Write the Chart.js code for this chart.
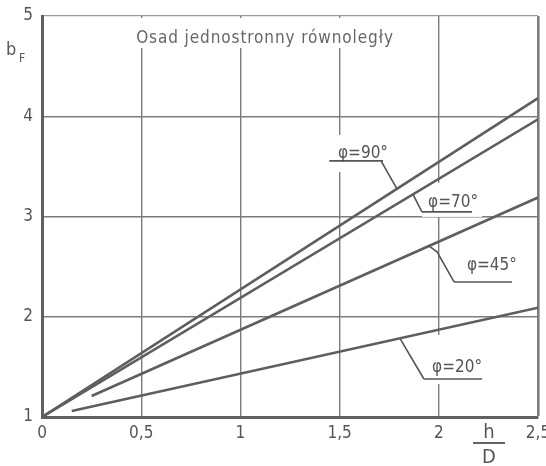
<!DOCTYPE html>
<html>
<head>
<meta charset="utf-8">
<script src="https://cdn.jsdelivr.net/npm/chart.js@4.4.1/dist/chart.umd.min.js"></script>
<style>
  html, body { margin: 0; background: #fff; }
</style>
</head>
<body>
<canvas id="chart" width="546" height="466"></canvas>
<script>
// values
const xTicks = [0, 0.5, 1, 1.5, 2, 2.5];
const yTicks = [1, 2, 3, 4, 5];
const title = "Osad jednostronny równoległy";

const x90 = [0, 2.5];
const b90 = [1.0, 4.18];
const x70 = [0, 2.5];
const b70 = [1.0, 3.97];
const x45 = [0.25, 2.5];
const b45 = [1.21, 3.19];
const x20 = [0.15, 2.5];
const b20 = [1.06, 2.09];

const seriesNames = ["φ=90°", "φ=70°", "φ=45°", "φ=20°"];

const FONT = '"DejaVu Sans Condensed", "DejaVu Sans", sans-serif';
const INK = "#555";
const LINE = "#5e5e5e";
const GRID = "#7c7c7c";

function pts(xs, ys) {
  return xs.map((x, i) => ({ x: x, y: ys[i] }));
}

const series = [pts(x90, b90), pts(x70, b70), pts(x45, b45), pts(x20, b20)];

// label placement (data units) for the leader-line annotations
const notes = [
  { s: 0, tx: 1.492, ty: 3.585, u0: 1.448, u1: 1.719, uy: 3.555, end: "right", hitX: 1.789, padT: 7, padB: 11 },
  { s: 1, tx: 1.946, ty: 3.096, u0: 1.915, u1: 2.167, uy: 3.046, end: "left", hitX: 1.870, padT: 8, padB: 5 },
  { s: 2, tx: 2.142, ty: 2.467, u0: 2.077, u1: 2.369, uy: 2.347, end: "left", hitX: 1.950, kink: [1.991, 2.647], padT: 4, padB: 3 },
  { s: 3, tx: 1.966, ty: 1.449, u0: 1.925, u1: 2.218, uy: 1.379, end: "left", hitX: 1.804, padT: 21, padB: 5 }
];

function lineAt(data, x) {
  const a = data[0], b = data[data.length - 1];
  return a.y + (b.y - a.y) * (x - a.x) / (b.x - a.x);
}

function fmt(v) {
  return String(v).replace(".", ",");
}

const decor = {
  id: "decor",
  beforeDatasetsDraw(chart) {
    const ctx = chart.ctx;
    const sx = chart.scales.x, sy = chart.scales.y;
    ctx.save();
    ctx.fillStyle = "#fff";
    // clear grid under the title
    ctx.fillRect(120, sy.top + 2, 290, 30);
    ctx.font = "17px " + FONT;
    notes.forEach(n => {
      const x = sx.getPixelForValue(n.tx);
      const y = sy.getPixelForValue(n.ty);
      const w = ctx.measureText(seriesNames[n.s]).width;
      const uy = sy.getPixelForValue(n.uy);
      ctx.fillRect(x - 6, y - 16 - n.padT, w + 10, uy - y + 16 + n.padT + n.padB);
    });
    ctx.restore();
  },
  afterDatasetsDraw(chart) {
    const ctx = chart.ctx;
    const sx = chart.scales.x, sy = chart.scales.y;
    ctx.save();
    ctx.fillStyle = INK;
    ctx.strokeStyle = INK;
    ctx.textBaseline = "alphabetic";

    // title, wide technical lettering
    ctx.font = "17px " + FONT;
    ctx.fillStyle = "#666";
    ctx.letterSpacing = "0.9px";
    ctx.textAlign = "center";
    ctx.fillText(title, 265, sy.top + 27);
    ctx.letterSpacing = "0px";
    ctx.fillStyle = INK;

    // series labels with underline and leader
    ctx.lineWidth = 1.6;
    notes.forEach(n => {
      ctx.font = "17px " + FONT;
      ctx.textAlign = "left";
      ctx.fillText(seriesNames[n.s], sx.getPixelForValue(n.tx), sy.getPixelForValue(n.ty));
      const uy = sy.getPixelForValue(n.uy);
      const ux0 = sx.getPixelForValue(n.u0), ux1 = sx.getPixelForValue(n.u1);
      ctx.beginPath();
      ctx.moveTo(ux0, uy);
      ctx.lineTo(ux1, uy);
      const sxp = n.end === "right" ? ux1 - 2 : ux0;
      ctx.moveTo(sxp, uy);
      if (n.kink) ctx.lineTo(sx.getPixelForValue(n.kink[0]), sy.getPixelForValue(n.kink[1]));
      ctx.lineTo(sx.getPixelForValue(n.hitX), sy.getPixelForValue(lineAt(series[n.s], n.hitX)));
      ctx.stroke();
    });

    // y axis title b_F
    ctx.textAlign = "left";
    ctx.font = "18px " + FONT;
    ctx.fillText("b", 6, 55);
    ctx.font = "12px " + FONT;
    ctx.fillText("F", 19, 62);

    // x axis title h / D
    ctx.textAlign = "center";
    ctx.font = "20px " + FONT;
    ctx.fillText("h", 489, 438);
    ctx.fillText("D", 489, 463);
    ctx.lineWidth = 1.8;
    ctx.beginPath();
    ctx.moveTo(473, 443);
    ctx.lineTo(505, 443);
    ctx.stroke();
    ctx.restore();
  }
};

new Chart(document.getElementById("chart"), {
  type: "scatter",
  plugins: [decor],
  data: {
    datasets: series.map((d, i) => ({
      label: seriesNames[i],
      data: d,
      showLine: true,
      borderColor: LINE,
      borderWidth: 2.6,
      pointRadius: 0,
      fill: false
    }))
  },
  options: {
    responsive: false,
    animation: false,
    layout: { padding: { top: 16, right: 8, left: 0, bottom: 0 } },
    plugins: {
      legend: { display: false },
      tooltip: { enabled: false }
    },
    scales: {
      x: {
        type: "linear",
        min: 0,
        max: 2.5,
        afterBuildTicks: s => { s.ticks = xTicks.map(v => ({ value: v })); },
        afterFit: s => { s.height = 49; s.paddingLeft = 0; s.paddingRight = 0; },
        ticks: {
          callback: v => fmt(v),
          font: { family: FONT, size: 17 },
          color: INK,
          padding: 6,
          maxRotation: 0
        },
        grid: {
          color: GRID,
          lineWidth: c => (c.tick && c.tick.value === 2.5 ? 2.6 : 1.4),
          drawTicks: false
        },
        border: { display: true, width: 3, color: "#606060" }
      },
      y: {
        type: "linear",
        min: 1,
        max: 5,
        afterBuildTicks: s => { s.ticks = yTicks.map(v => ({ value: v })); },
        afterFit: s => { s.width = 42; s.paddingTop = 0; s.paddingBottom = 0; },
        ticks: {
          callback: v => fmt(v),
          font: { family: FONT, size: 17 },
          color: INK,
          padding: 9
        },
        grid: {
          color: c => (c.tick && c.tick.value === 5 ? "#9a9a9a" : GRID),
          lineWidth: c => (c.tick && c.tick.value === 5 ? 1.2 : 1.4),
          drawTicks: false
        },
        border: { display: true, width: 3, color: "#606060" }
      }
    }
  }
});
</script>
</body>
</html>
